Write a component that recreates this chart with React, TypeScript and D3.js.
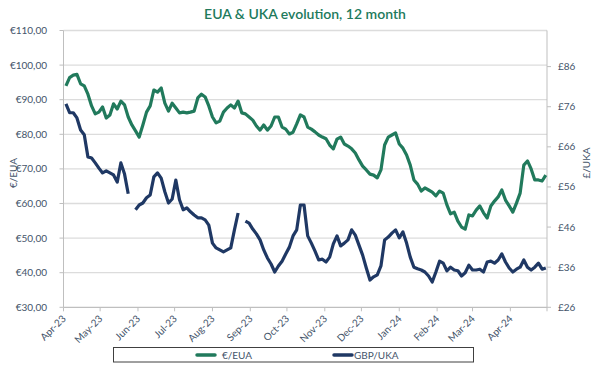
import React, { useEffect, useRef } from 'react';
import * as d3 from 'd3';

// sampled every 3 days, Apr 3 2023 -> Apr 30 2024
const dates: Date[] = d3.timeDay.range(new Date(2023, 3, 3), new Date(2024, 4, 1), 3);

const euaValues: number[] = [
  94.0, 96.4, 97.1, 97.3, 94.6, 94.0, 91.6, 88.2, 85.9, 86.4,
  87.9, 84.7, 85.6, 88.8, 87.3, 89.6, 88.5, 85.0, 82.7, 81.0,
  79.2, 82.7, 86.4, 88.2, 92.8, 92.2, 93.4, 89.0, 86.7, 89.0,
  87.6, 86.2, 86.4, 86.2, 86.4, 86.7, 90.5, 91.6, 90.8, 88.2,
  85.0, 83.3, 83.8, 86.4, 87.6, 88.5, 87.6, 89.6, 86.2, 85.9,
  85.0, 84.1, 82.4, 81.2, 82.7, 81.2, 82.4, 85.0, 85.0, 82.1,
  81.5, 80.1, 80.6, 83.0, 85.6, 85.0, 82.1, 81.5, 80.7, 79.8,
  79.2, 78.7, 76.9, 75.8, 78.6, 79.2, 77.2, 76.6, 75.8, 74.6,
  72.6, 70.8, 69.7, 68.5, 68.2, 67.4, 69.7, 76.9, 79.2, 79.8,
  80.4, 77.2, 76.0, 74.0, 71.1, 66.8, 65.6, 63.6, 64.5, 63.9,
  63.3, 62.2, 63.6, 63.0, 59.6, 57.0, 57.5, 54.9, 53.2, 52.6,
  56.7, 56.4, 58.1, 59.3, 57.3, 55.8, 59.3, 60.7, 61.9, 63.9,
  61.0, 59.3, 57.5, 60.1, 63.0, 71.1, 72.3, 70.0, 66.8, 66.8,
  66.5, 68.2,
];

const ukaValues: (number | null)[] = [
  76.7, 74.5, 74.5, 73.2, 70.2, 69.0, 63.5, 63.2, 62.0, 60.7,
  59.5, 60.0, 59.5, 59.0, 57.2, 62.0, 59.2, 54.3, null, 50.3,
  51.5, 52.0, 53.3, 54.0, 58.5, 59.5, 58.2, 54.8, 52.0, 53.0,
  57.7, 52.8, 50.3, 50.8, 49.8, 49.0, 48.3, 48.3, 47.8, 46.5,
  42.0, 40.8, 40.3, 39.8, 40.3, 40.8, 45.3, 49.5, null, 47.5,
  47.0, 45.5, 44.3, 42.8, 40.3, 38.3, 36.8, 34.8, 36.3, 37.5,
  39.3, 41.0, 43.8, 45.3, 51.5, 51.5, 43.8, 42.0, 40.0, 37.8,
  38.0, 37.3, 38.5, 41.8, 43.8, 41.3, 42.0, 42.8, 45.3, 44.0,
  41.5, 39.0, 35.8, 32.8, 33.6, 34.1, 36.3, 42.8, 43.5, 44.5,
  45.3, 43.3, 44.8, 42.0, 38.5, 36.0, 35.6, 35.3, 34.8, 33.8,
  32.3, 34.8, 37.5, 37.0, 35.1, 36.0, 35.3, 35.1, 33.8, 34.6,
  36.5, 35.3, 35.3, 35.5, 34.8, 37.3, 37.5, 37.0, 37.8, 39.3,
  37.3, 35.8, 34.8, 35.5, 36.0, 37.8, 36.0, 35.3, 36.0, 37.0,
  35.5, 35.8,
];

const leftTicks = [30, 40, 50, 60, 70, 80, 90, 100, 110];
const rightTicks = [26, 36, 46, 56, 66, 76, 86];
const monthTicks: Date[] = d3.timeMonth.range(new Date(2023, 3, 1), new Date(2024, 4, 2));

const title = 'EUA & UKA evolution, 12 month';
const seriesNames = ['€/EUA', 'GBP/UKA'];
const seriesColors = ['#217a5c', '#1f3864'];

const W = 610;
const H = 366;
const font = 'Lato, "Open Sans", sans-serif';
const textColor = '#44546a';

const App: React.FC = () => {
  const ref = useRef<SVGSVGElement>(null);

  useEffect(() => {
    const svg = d3.select(ref.current);
    svg.selectAll('*').remove();

    const left = 63.5;
    const right = 547;
    const top = 30.5;
    const bottom = 307.3;

    const x = d3.scaleTime().domain([new Date(2023, 3, 1), new Date(2024, 4, 1)]).range([left, right]);
    const yL = d3.scaleLinear().domain([30, 110]).range([bottom, top]);
    const yR = d3.scaleLinear().domain([26, 95]).range([bottom, top]);

    svg.append('rect').attr('width', W).attr('height', H).attr('fill', '#fff');

    // title
    svg
      .append('text')
      .attr('x', 305)
      .attr('y', 19)
      .attr('text-anchor', 'middle')
      .attr('font-family', font)
      .attr('font-size', 14)
      .attr('font-weight', 600)
      .attr('fill', seriesColors[0])
      .text(title);

    // gridlines
    svg
      .append('g')
      .selectAll('line')
      .data(leftTicks)
      .join('line')
      .attr('x1', left)
      .attr('x2', right)
      .attr('y1', (d) => yL(d))
      .attr('y2', (d) => yL(d))
      .attr('stroke', (d) => (d === 30 ? '#bfbfbf' : '#dcdcdc'))
      .attr('stroke-width', 1.3);

    // axis lines
    svg.append('line').attr('x1', left).attr('x2', left).attr('y1', top).attr('y2', bottom).attr('stroke', '#bfbfbf');
    svg.append('line').attr('x1', right).attr('x2', right).attr('y1', top).attr('y2', bottom).attr('stroke', '#bfbfbf');

    // left axis
    const fmtEur = (d: number) => '€' + d.toFixed(2).replace('.', ',');
    const gl = svg.append('g');
    gl.selectAll('line')
      .data(leftTicks)
      .join('line')
      .attr('x1', left - 4)
      .attr('x2', left)
      .attr('y1', (d) => yL(d))
      .attr('y2', (d) => yL(d))
      .attr('stroke', '#bfbfbf');
    gl.selectAll('text')
      .data(leftTicks)
      .join('text')
      .attr('x', 47)
      .attr('y', (d) => yL(d))
      .attr('dy', '0.35em')
      .attr('text-anchor', 'end')
      .attr('font-family', font)
      .attr('font-size', 10)
      .attr('fill', textColor)
      .text(fmtEur);

    // right axis
    const gr = svg.append('g');
    gr.selectAll('line')
      .data(rightTicks)
      .join('line')
      .attr('x1', right)
      .attr('x2', right + 4)
      .attr('y1', (d) => yR(d))
      .attr('y2', (d) => yR(d))
      .attr('stroke', '#bfbfbf');
    gr.selectAll('text')
      .data(rightTicks)
      .join('text')
      .attr('x', 558)
      .attr('y', (d) => yR(d))
      .attr('dy', '0.35em')
      .attr('font-family', font)
      .attr('font-size', 10)
      .attr('fill', textColor)
      .text((d) => '£' + d);

    // axis titles
    svg
      .append('text')
      .attr('transform', 'translate(17,173) rotate(-90)')
      .attr('text-anchor', 'middle')
      .attr('font-family', font)
      .attr('font-size', 10)
      .attr('fill', textColor)
      .text('€/EUA');
    svg
      .append('text')
      .attr('transform', 'translate(590,163) rotate(-90)')
      .attr('text-anchor', 'middle')
      .attr('font-family', font)
      .attr('font-size', 10)
      .attr('fill', textColor)
      .text('£/UKA');

    // bottom axis
    const gb = svg.append('g');
    gb.selectAll('line')
      .data(monthTicks)
      .join('line')
      .attr('x1', (d) => x(d))
      .attr('x2', (d) => x(d))
      .attr('y1', bottom)
      .attr('y2', bottom + 4)
      .attr('stroke', '#bfbfbf');
    const fmtMonth = d3.timeFormat('%b-%y');
    gb.selectAll('text')
      .data(monthTicks.slice(0, -1))
      .join('text')
      .attr('transform', (d) => `translate(${x(d) + 3},${bottom + 12}) rotate(-45)`)
      .attr('text-anchor', 'end')
      .attr('font-family', font)
      .attr('font-size', 10)
      .attr('fill', textColor)
      .text(fmtMonth);

    // lines
    const lineL = d3
      .line<number>()
      .x((_, i) => x(dates[i]))
      .y((d) => yL(d));
    const lineR = d3
      .line<number | null>()
      .defined((d) => d !== null)
      .x((_, i) => x(dates[i]))
      .y((d) => yR(d as number));

    svg
      .append('path')
      .datum(euaValues)
      .attr('d', lineL)
      .attr('fill', 'none')
      .attr('stroke', seriesColors[0])
      .attr('stroke-width', 3.2)
      .attr('stroke-linejoin', 'round');
    svg
      .append('path')
      .datum(ukaValues)
      .attr('d', lineR)
      .attr('fill', 'none')
      .attr('stroke', seriesColors[1])
      .attr('stroke-width', 3.2)
      .attr('stroke-linejoin', 'round');

    // legend
    const lg = svg.append('g');
    lg.append('rect')
      .attr('x', 113.5)
      .attr('y', 347.5)
      .attr('width', 360)
      .attr('height', 14.5)
      .attr('fill', '#fff')
      .attr('stroke', '#404040');
    const legendX = [197, 334];
    seriesNames.forEach((name, i) => {
      lg.append('line')
        .attr('x1', legendX[i])
        .attr('x2', legendX[i] + 18)
        .attr('y1', 355)
        .attr('y2', 355)
        .attr('stroke', seriesColors[i])
        .attr('stroke-width', 3.5)
        .attr('stroke-linecap', 'round');
      lg.append('text')
        .attr('x', legendX[i] + (i === 0 ? 25 : 20))
        .attr('y', 355)
        .attr('dy', '0.35em')
        .attr('font-family', font)
        .attr('font-size', 10)
        .attr('fill', textColor)
        .text(name);
    });
  }, []);

  return <svg ref={ref} width={W} height={H} style={{ position: 'absolute', left: 0, top: 0 }} />;
};

export default App;
